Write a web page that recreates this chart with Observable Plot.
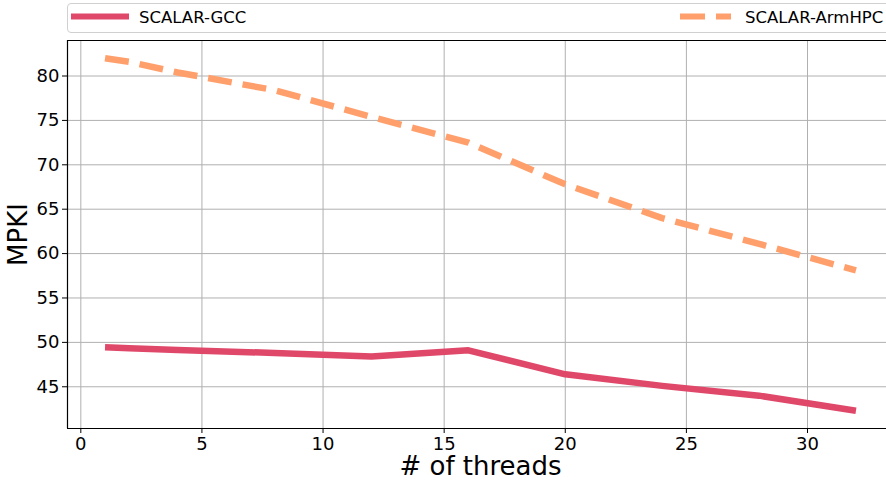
<!DOCTYPE html>
<html><head><meta charset="utf-8">
<script src="https://cdn.jsdelivr.net/npm/d3@7"></script>
<script src="https://cdn.jsdelivr.net/npm/@observablehq/plot@0.6"></script>
<style>
body{margin:0;background:#fff;font-family:"DejaVu Sans",sans-serif;}
#wrap{position:relative;width:886px;height:482px;overflow:hidden;}
#legend{position:absolute;left:67px;top:3px;width:830px;height:30px;border:1px solid #d0d0d0;border-radius:4px;box-sizing:border-box;background:#fff;}
#legend svg{position:absolute;left:0;top:0;}
#chart{position:absolute;left:0;top:36px;}
#chart g[aria-label$="tick label"]{font-size:18px;}
</style></head><body>
<div id="wrap"><div id="legend"></div><div id="chart"></div></div>
<script>
const threads = [1, 2, 4, 8, 12, 16, 20, 24, 28, 32];
const gcc = [49.45, 49.35, 49.15, 48.8, 48.4, 49.1, 46.4, 45.1, 44.0, 42.3];
const armhpc = [82.0, 81.6, 80.4, 78.4, 75.4, 72.5, 67.8, 64.0, 61.1, 58.1];
const seriesNames = ["SCALAR-GCC", "SCALAR-ArmHPC"];
const xTicks = [0, 5, 10, 15, 20, 25, 30];
const yTicks = [45, 50, 55, 60, 65, 70, 75, 80];
const colors = ["#e0486a", "#ffa06c"];

const rows = [];
threads.forEach((t, i) => {
  rows.push({t, v: gcc[i], s: seriesNames[0]});
  rows.push({t, v: armhpc[i], s: seriesNames[1]});
});
const xMin = -0.55, xMax = 33.55, yMin = 40.3, yMax = 84.0;

const plot = Plot.plot({
  width: 886, height: 446,
  marginLeft: 67, marginRight: -7, marginTop: 4, marginBottom: 54,
  style: {fontFamily: "DejaVu Sans", fontSize: "18px", color: "#000", background: "#fff", overflow: "visible"},
  x: {domain: [xMin, xMax], ticks: xTicks, label: null},
  y: {domain: [yMin, yMax], ticks: yTicks, label: null},
  marks: [
    Plot.gridX(xTicks, {stroke: "#b0b0b0", strokeOpacity: 1, strokeWidth: 1}),
    Plot.gridY(yTicks, {stroke: "#b0b0b0", strokeOpacity: 1, strokeWidth: 1}),
    Plot.ruleX([xMin], {stroke: "#000", strokeWidth: 1.2}),
    Plot.ruleY([yMin, yMax], {stroke: "#000", strokeWidth: 1.2}),
    Plot.line(rows.filter(d => d.s === seriesNames[0]), {x: "t", y: "v", stroke: colors[0], strokeWidth: 6.5, strokeLinejoin: "round", strokeLinecap: "butt"}),
    Plot.line(rows.filter(d => d.s === seriesNames[1]), {x: "t", y: "v", stroke: colors[1], strokeWidth: 6.5, strokeDasharray: "24 11", strokeLinecap: "butt"}),
    Plot.axisX(xTicks, {tickSize: 5, tickPadding: 4, fontSize: 18}),
    Plot.axisY(yTicks, {tickSize: 5, tickPadding: 3, fontSize: 18}),
    Plot.text(["# of threads"], {frameAnchor: "bottom", lineAnchor: "bottom", dy: 46, fontSize: 26, textAnchor: "middle"}),
    Plot.text(["MPKI"], {frameAnchor: "left", textAnchor: "middle", lineAnchor: "middle", dx: -49, rotate: -90, fontSize: 26})
  ]
});
document.getElementById("chart").appendChild(plot);

// legend
const lg = d3.select("#legend").append("svg").attr("width", 830).attr("height", 30);
const items = [
  {name: seriesNames[0], color: colors[0], dash: null, x0: 3, tx: 71},
  {name: seriesNames[1], color: colors[1], dash: "25 11 15 200", x0: 612, tx: 677}
];
items.forEach(it => {
  lg.append("line").attr("x1", it.x0).attr("x2", it.x0 + 58).attr("y1", 12.5).attr("y2", 12.5)
    .attr("stroke", it.color).attr("stroke-width", 6).attr("stroke-dasharray", it.dash);
  lg.append("text").attr("x", it.tx).attr("y", 19).attr("font-size", 16.5)
    .attr("font-family", "DejaVu Sans").attr("fill", "#000").text(it.name);
});
</script></body></html>
